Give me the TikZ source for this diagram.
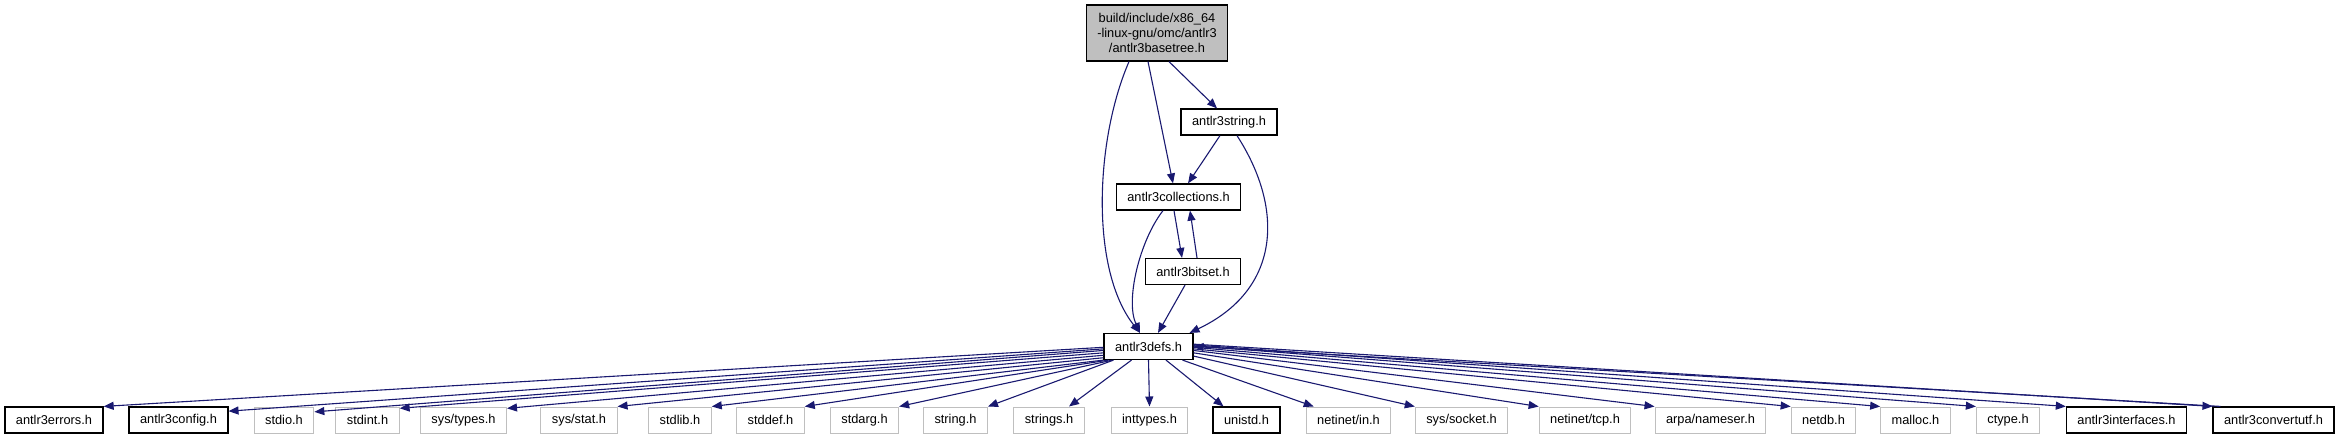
\documentclass[tikz,border=0pt]{standalone}
\usepackage{fontspec}
\setmainfont{Liberation Sans}
\usetikzlibrary{positioning,arrows.meta}
\definecolor{edgeblue}{HTML}{191970}
\definecolor{nodegrey}{HTML}{BFBFBF}

\begin{document}
\begin{tikzpicture}[
  x=1pt, y=-1pt,
  file/.style={draw=black, line width=1.2pt, fill=white, inner xsep=11pt,
               inner ysep=0pt, minimum height=26pt,
               font=\fontsize{12.8}{15}\selectfont},
  sysfile/.style={file, draw=nodegrey, line width=1pt},
  root/.style={file, fill=nodegrey, minimum width=114pt,
               minimum height=56pt, align=center},
  inc/.style={-{Triangle[length=10pt,width=8pt]}, line width=1.1pt, edgeblue}
]
  \useasboundingbox (0,0) rectangle (2340,440);

  % Upper files
  \node[root] (basetree) at (1157,33)
    {build/include/x86\_64\\-linux-gnu/omc/antlr3\\/antlr3basetree.h};
  \node[file] (str) at (1229,122) {antlr3string.h};
  \node[file] (coll) at (1178.5,197) {antlr3collections.h};
  \node[file] (bitset) at (1193,271.5) {antlr3bitset.h};
  \node[file] (defs) at (1148.5,346.5) {antlr3defs.h};

  % Bottom row
  \node[file] (errors) at (54,420) {antlr3errors.h};
  \node[file] (config) at (178.5,420) {antlr3config.h};
  \node[sysfile] (stdio) at (284,420) {stdio.h};
  \node[sysfile] (stdint) at (367.5,420) {stdint.h};
  \node[sysfile] (systypes) at (463.5,420) {sys/types.h};
  \node[sysfile] (sysstat) at (579,420) {sys/stat.h};
  \node[sysfile] (stdlib) at (680,420) {stdlib.h};
  \node[sysfile] (stddef) at (770.5,420) {stddef.h};
  \node[sysfile] (stdarg) at (864.5,420) {stdarg.h};
  \node[sysfile] (stringh) at (955.5,420) {string.h};
  \node[sysfile] (strings) at (1049,420) {strings.h};
  \node[sysfile] (inttypes) at (1149.5,420) {inttypes.h};
  \node[file] (unistd) at (1246.5,420) {unistd.h};
  \node[sysfile] (netin) at (1348.5,420) {netinet/in.h};
  \node[sysfile] (syssocket) at (1461.5,420) {sys/socket.h};
  \node[sysfile] (nettcp) at (1585,420) {netinet/tcp.h};
  \node[sysfile] (arpa) at (1710.5,420) {arpa/nameser.h};
  \node[sysfile] (netdb) at (1823.5,420) {netdb.h};
  \node[sysfile] (malloc) at (1915.5,420) {malloc.h};
  \node[sysfile] (ctype) at (2008,420) {ctype.h};
  \node[file] (interfaces) at (2126.5,420) {antlr3interfaces.h};
  \node[file] (convertutf) at (2273.5,420) {antlr3convertutf.h};

  % Includes among the upper files
  \draw[inc] ([xshift=-28pt]basetree.south) .. controls (1095,140) and (1090,270) .. ([xshift=-8.5pt]defs.north);
  \draw[inc] ([xshift=-9pt]basetree.south) -- ([xshift=-5.5pt]coll.north);
  \draw[inc] ([xshift=12pt]basetree.south) -- ([xshift=-12pt]str.north);
  \draw[inc] ([xshift=-9pt]str.south) -- ([xshift=9.5pt]coll.north);
  \draw[inc] ([xshift=8pt]str.south) .. controls (1285,210) and (1280,290) .. ([xshift=-4pt]defs.north east);
  \draw[inc] ([xshift=-15.5pt]coll.south) .. controls (1140,240) and (1125,300) .. ([xshift=-8.5pt]defs.north);
  \draw[inc] ([xshift=-4.5pt]coll.south) -- ([xshift=-11pt]bitset.north);
  \draw[inc] ([xshift=4pt]bitset.north) -- ([xshift=11.5pt]coll.south);
  \draw[inc] ([xshift=-8pt]bitset.south) -- ([xshift=9.5pt]defs.north);

  % Includes of antlr3defs.h
  \draw[inc] (defs.181) -- (errors.north east);
  \draw[inc] (defs.183) -- (config.10);
  \draw[inc] (defs.185) -- (stdio.15);
  \draw[inc] (defs.188) -- (stdint.20);
  \draw[inc] (defs.191) -- (systypes.15);
  \draw[inc] (defs.194) -- (sysstat.north east);
  \draw[inc] (defs.south west) -- (stdlib.north east);
  \draw[inc] ([xshift=5pt]defs.south west) -- (stddef.north east);
  \draw[inc] ([xshift=9pt]defs.south west) -- (stdarg.north east);
  \draw[inc] ([xshift=-35pt]defs.south) -- (stringh.north east);
  \draw[inc] ([xshift=-17pt]defs.south) -- ([xshift=20pt]strings.north);
  \draw[inc] (defs.south) -- (inttypes.north);
  \draw[inc] ([xshift=17.5pt]defs.south) -- ([xshift=-23pt]unistd.north);
  \draw[inc] ([xshift=34pt]defs.south) -- ([xshift=8pt]netin.north west);
  \draw[inc] (defs.-12) -- (syssocket.north west);
  \draw[inc] (defs.-8) -- (nettcp.north west);
  \draw[inc] (defs.-5) -- (arpa.north west);
  \draw[inc] (defs.-3) -- (netdb.north west);
  \draw[inc] (defs.-1) -- (malloc.north west);
  \draw[inc] (defs.1) -- (ctype.north west);
  \draw[inc] (defs.2) -- (interfaces.north west);
  \draw[inc] (defs.3) -- (convertutf.north west);
  \draw[inc] ([xshift=8pt]convertutf.north west) -- (defs.east);
\end{tikzpicture}
\end{document}
